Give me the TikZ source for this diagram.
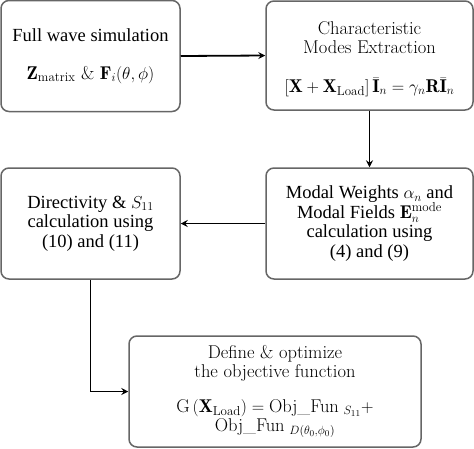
\documentclass[tikz,border=0pt]{standalone}
\usepackage{amsmath}
\usepackage{fontspec}
\newfontfamily\timesf{Liberation Serif}
\usetikzlibrary{arrows.meta}
\tikzset{
  box/.style={draw=black!60, line width=1.5pt, rounded corners=8pt, align=center, inner sep=0pt, font=\fontsize{18.5}{19.5}\selectfont},
  conn/.style={draw=black, line width=1.8pt, -{Stealth[length=7pt,width=7pt,inset=2.5pt]}},
}
\begin{document}
\begin{tikzpicture}[x=1pt,y=-1pt]
\useasboundingbox (0,0) rectangle (474,448);
\node[box, minimum width=179pt, minimum height=111pt] (full) at (90.5,56)
  {\timesf Full wave simulation\\[18pt] $\mathbf{Z}_{\mathrm{matrix}}$ \& $\mathbf{F}_i(\theta,\phi)$};
\node[box, minimum width=207pt, minimum height=109pt] (cm) at (369.5,55.5) {};
\node[align=center, inner sep=0pt, font=\fontsize{18.5}{19.5}\selectfont] (cmtext) at (369.5,59)
  {Characteristic\\ Modes Extraction\\[19pt] $\left[\mathbf{X}+\mathbf{X}_{\mathrm{Load}}\right]\bar{\mathbf{I}}_n=\gamma_n\mathbf{R}\bar{\mathbf{I}}_n$};
\node[box, minimum width=207pt, minimum height=111pt] (modal) at (369.5,223.5)
  {\timesf Modal Weights $\alpha_n$ and\\ \timesf Modal Fields $\mathbf{E}_n^{\mathrm{mode}}$\\ \timesf calculation using\\ \timesf (4) and (9)};
\node[box, minimum width=179pt, minimum height=111pt] (dir) at (90.5,223.5)
  {\timesf Directivity \& $S_{11}$\\ \timesf calculation using\\ \timesf (10) and (11)};
\node[box, minimum width=292pt, minimum height=111pt] (obj) at (275,391.5)
  {Define \& optimize\\ the objective function\\[15pt]
   $\mathrm{G}\left(\mathbf{X}_{\mathrm{Load}}\right)=\text{Obj\_Fun}\;_{S_{11}}+$\\
   $\text{Obj\_Fun}\;_{D(\theta_0,\phi_0)}$};
\draw[conn] (full.east) -- (cm.west);
\draw[conn] (cm.south) -- (modal.north);
\draw[conn] (modal.west) -- (dir.east);
\draw[conn] (dir.south) |- (obj.west);
\end{tikzpicture}
\end{document}
